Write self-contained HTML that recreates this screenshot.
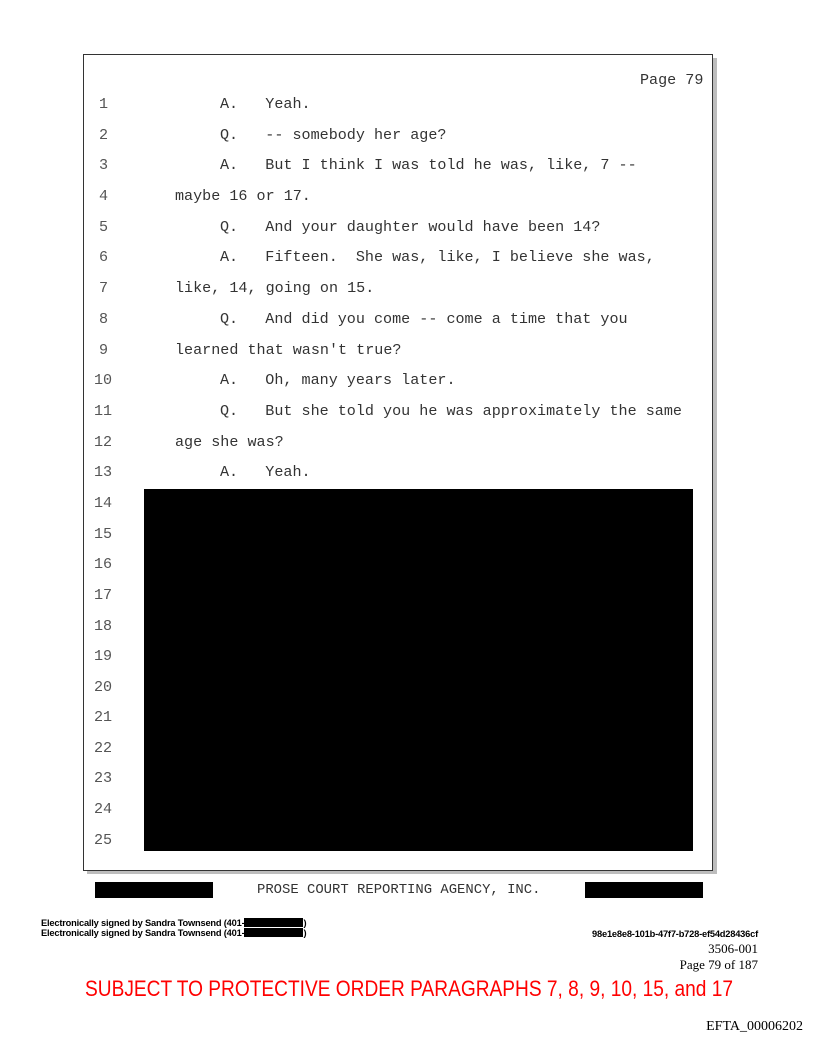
<!DOCTYPE html>
<html><head><meta charset="utf-8"><style>
body{margin:0;width:816px;height:1056px;background:#fff;position:relative;overflow:hidden}
.m{font-family:"Liberation Mono",monospace;font-size:15.1px;color:#333;position:absolute;white-space:pre;line-height:16px}
.n{color:#555}
.b{position:absolute;background:#000}
</style></head><body>
<div style="position:absolute;left:87px;top:58px;width:630px;height:816px;background:#bdbdbd"></div>
<div style="position:absolute;left:83px;top:54px;width:628px;height:815px;background:#fff;border:1px solid #333"></div>
<div class="m" style="left:640px;top:72px">Page 79</div>
<div class="m n" style="left:99px;top:96px">1</div><div class="m" style="left:220px;top:96px">A.   Yeah.</div>
<div class="m n" style="left:99px;top:127px">2</div><div class="m" style="left:220px;top:127px">Q.   -- somebody her age?</div>
<div class="m n" style="left:99px;top:157px">3</div><div class="m" style="left:220px;top:157px">A.   But I think I was told he was, like, 7 --</div>
<div class="m n" style="left:99px;top:188px">4</div><div class="m" style="left:175px;top:188px">maybe 16 or 17.</div>
<div class="m n" style="left:99px;top:219px">5</div><div class="m" style="left:220px;top:219px">Q.   And your daughter would have been 14?</div>
<div class="m n" style="left:99px;top:249px">6</div><div class="m" style="left:220px;top:249px">A.   Fifteen.  She was, like, I believe she was,</div>
<div class="m n" style="left:99px;top:280px">7</div><div class="m" style="left:175px;top:280px">like, 14, going on 15.</div>
<div class="m n" style="left:99px;top:311px">8</div><div class="m" style="left:220px;top:311px">Q.   And did you come -- come a time that you</div>
<div class="m n" style="left:99px;top:342px">9</div><div class="m" style="left:175px;top:342px">learned that wasn't true?</div>
<div class="m n" style="left:94px;top:372px">10</div><div class="m" style="left:220px;top:372px">A.   Oh, many years later.</div>
<div class="m n" style="left:94px;top:403px">11</div><div class="m" style="left:220px;top:403px">Q.   But she told you he was approximately the same</div>
<div class="m n" style="left:94px;top:434px">12</div><div class="m" style="left:175px;top:434px">age she was?</div>
<div class="m n" style="left:94px;top:464px">13</div><div class="m" style="left:220px;top:464px">A.   Yeah.</div>
<div class="m n" style="left:94px;top:495px">14</div>
<div class="m n" style="left:94px;top:526px">15</div>
<div class="m n" style="left:94px;top:556px">16</div>
<div class="m n" style="left:94px;top:587px">17</div>
<div class="m n" style="left:94px;top:618px">18</div>
<div class="m n" style="left:94px;top:648px">19</div>
<div class="m n" style="left:94px;top:679px">20</div>
<div class="m n" style="left:94px;top:709px">21</div>
<div class="m n" style="left:94px;top:740px">22</div>
<div class="m n" style="left:94px;top:770px">23</div>
<div class="m n" style="left:94px;top:801px">24</div>
<div class="m n" style="left:94px;top:832px">25</div>
<div class="b" style="left:144px;top:489px;width:549px;height:362px"></div>
<div class="b" style="left:95px;top:882px;width:118px;height:16px"></div>
<div class="b" style="left:585px;top:882px;width:118px;height:16px"></div>
<div class="m" style="left:257px;top:882px;font-size:13.9px">PROSE COURT REPORTING AGENCY, INC.</div>
<div style="position:absolute;left:41px;top:918px;font:bold 9.3px/10px 'Liberation Sans',sans-serif;color:#000;letter-spacing:-0.2px">Electronically signed by Sandra Townsend (401-<span style="display:inline-block;width:59px;height:9px;background:#000;vertical-align:-1px"></span>)<br>Electronically signed by Sandra Townsend (401-<span style="display:inline-block;width:59px;height:9px;background:#000;vertical-align:-1px"></span>)</div>
<div style="position:absolute;right:58px;top:929px;font:bold 9.3px 'Liberation Sans',sans-serif;letter-spacing:-0.2px">98e1e8e8-101b-47f7-b728-ef54d28436cf</div>
<div style="position:absolute;right:58px;top:941px;font:13px/16px 'Liberation Serif',serif;text-align:right">3506-001<br>Page 79 of 187</div>
<svg style="position:absolute;left:0;top:0" width="816" height="1056"><text x="85" y="996" font-family="Liberation Sans,sans-serif" font-size="22" fill="#f00" textLength="648" lengthAdjust="spacingAndGlyphs">SUBJECT TO PROTECTIVE ORDER PARAGRAPHS 7, 8, 9, 10, 15, and 17</text></svg>
<div style="position:absolute;right:13px;top:1019px;font:14px 'Liberation Serif',serif">EFTA_00006202</div>
</body></html>
